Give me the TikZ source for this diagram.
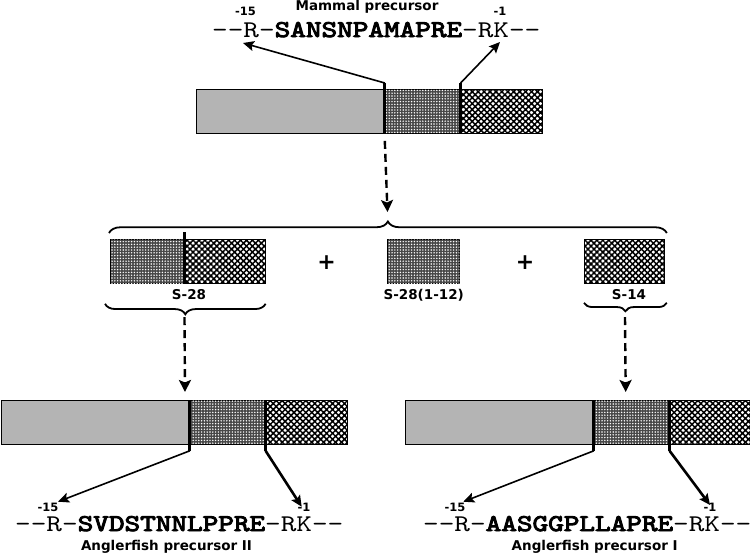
\documentclass[tikz,border=0pt]{standalone}
\usepackage{fontspec}
\setmainfont{DejaVu Sans}
\newfontfamily\seqfont{lmmono10-regular.otf}[FakeStretch=1.24]
\newfontfamily\seqbold{lmmono10-regular.otf}[FakeStretch=1.24, FakeBold=4]
\newcommand{\seqgap}{-\kern0pt-}
\usepackage{tikz}
\usetikzlibrary{positioning, arrows.meta, patterns.meta, decorations.pathreplacing}
\definecolor{signalgray}{HTML}{B4B4B4}

\begin{document}
\begin{tikzpicture}[
  x=1pt, y=-1pt,
  >=Stealth,
  signal/.style={
    rectangle, draw=black, line width=0.8pt, fill=signalgray,
    minimum width=188pt, minimum height=44pt, inner sep=0pt
  },
  stipple/.style={
    rectangle, draw=black, line width=0.8pt, fill=black!72,
    postaction={pattern={Dots[distance=2.8pt, radius=0.8pt]}, pattern color=white},
    minimum width=#1, minimum height=44pt, inner sep=0pt
  },
  checker/.style={
    rectangle, draw=black, line width=0.8pt, fill=white,
    postaction={pattern={Hatch[angle=45, distance=4.2pt, line width=1.5pt]}, pattern color=black},
    minimum width=#1, minimum height=44pt, inner sep=0pt
  },
  cutline/.style={line width=3pt},
  pointer/.style={-{Stealth[length=11pt, width=10pt, inset=2pt]}, line width=1.6pt},
  heavypointer/.style={-{Stealth[length=11pt, width=10pt, inset=2pt]}, line width=2.6pt},
  flow/.style={-{Stealth[length=12pt, width=12pt, inset=2.5pt]}, dash pattern=on 8pt off 5pt, line width=2.4pt},
  curly/.style={decorate, decoration={brace, amplitude=#1}, line width=1.8pt},
  seq/.style={font=\fontsize{24}{26}\selectfont\seqfont, inner sep=0pt},
  lab/.style={font=\bfseries\fontsize{13.5}{15}\selectfont, inner sep=0pt},
  resnum/.style={font=\bfseries\fontsize{11.5}{13}\selectfont, inner sep=0pt},
  plussign/.style={font=\bfseries\fontsize{22}{24}\selectfont, inner sep=0pt},
]
\useasboundingbox (0,0) rectangle (750,558);

% Mammal precursor
\node[lab, anchor=base] (mname) at (367,10) {Mammal precursor};
\node[seq, anchor=base west] (mseq) at (212,37) {\seqgap R-{\seqbold SANSNPAMAPRE}-RK\seqgap};
\node[resnum, anchor=base] (mn15) at (245.5,15.5) {-15};
\node[resnum, anchor=base] (mn1) at (500,15.5) {-1};

\node[signal, anchor=north west] (msig) at (196,89) {};
\node[stipple=75pt, anchor=west] (mnt) at (msig.east) {};
\node[checker=81pt, anchor=west] (ms14) at (mnt.east) {};

\coordinate[above=6pt of mnt.north west] (mcutA);
\coordinate[above=6pt of ms14.north west] (mcutB);
\draw[cutline] (mnt.south west) -- (mcutA);
\draw[cutline] (ms14.south west) -- (mcutB);
\coordinate (mtipA) at (243,43);
\coordinate (mtipB) at (500,42);
\draw[pointer] (mcutA) -- (mtipA);
\draw[pointer] (mcutB) -- (mtipB);

% Processing products
\node[stipple=74pt, anchor=north west] (nt28) at (110,239) {};
\node[checker=80pt, anchor=west] (ct28) at (nt28.east) {};
\draw[cutline] (ct28.south west) -- ([yshift=7pt]ct28.north west);
\node[stipple=72pt, anchor=north west] (nt12) at (387,239) {};
\node[checker=80pt, anchor=north west] (s14) at (584,239) {};

\node[lab, anchor=base] (l28) at (189,299) {S-28};
\node[lab, anchor=base] (l12) at (423.7,299.5) {S-28(1-12)};
\node[lab, anchor=base] (l14) at (629,299) {S-14};
\node[plussign] (plusA) at (326.7,262.7) {+};
\node[plussign] (plusB) at (525,262.7) {+};

\draw[curly=11.5pt] ([shift={(-1pt,6pt)}]nt28.north west) -- ([shift={(2pt,6pt)}]s14.north east);
\draw[curly=10.5pt] ([yshift=-20pt]ct28.south east) -- ([shift={(-5pt,-20pt)}]nt28.south west);
\draw[curly=8.5pt] ([shift={(2pt,-19pt)}]s14.south east) -- ([yshift=-19pt]s14.south west);

\coordinate (splittip) at (387.5,212);
\draw[flow] ([yshift=-7pt]mnt.south west) -- (splittip);

% Anglerfish precursor II
\node[signal, anchor=north west] (a2sig) at (1,400) {};
\node[stipple=75pt, anchor=west] (a2nt) at (a2sig.east) {};
\node[checker=81pt, anchor=west] (a2s14) at (a2nt.east) {};

\coordinate (a2from) at (184.5,317);
\coordinate (a2in) at (185,392);
\draw[flow] (a2from) -- (a2in);

\coordinate[below=6pt of a2nt.south west] (a2cutA);
\coordinate[below=6pt of a2s14.south west] (a2cutB);
\draw[cutline] (a2nt.north west) -- (a2cutA);
\draw[cutline] (a2s14.north west) -- (a2cutB);
\coordinate (a2tipA) at (58,501.7);
\coordinate (a2tipB) at (301.7,506.7);
\draw[pointer] (a2cutA) -- (a2tipA);
\draw[heavypointer] (a2cutB) -- (a2tipB);

\node[resnum, anchor=base] (a2n15) at (48,511) {-15};
\node[resnum, anchor=base] (a2n1) at (304,511) {-1};
\node[seq, anchor=base west] (a2seq) at (15,531) {\seqgap R-{\seqbold SVDSTNNLPPRE}-RK\seqgap};
\node[lab, anchor=base] (a2name) at (166.5,550) {Anglerfish precursor II};

% Anglerfish precursor I
\node[signal, anchor=north west] (a1sig) at (405,400) {};
\node[stipple=75pt, anchor=west] (a1nt) at (a1sig.east) {};
\node[checker=81pt, anchor=west] (a1s14) at (a1nt.east) {};

\coordinate (a1from) at (625,317);
\coordinate (a1in) at (625.7,392);
\draw[flow] (a1from) -- (a1in);

\coordinate[below=6pt of a1nt.south west] (a1cutA);
\coordinate[below=6pt of a1s14.south west] (a1cutB);
\draw[cutline] (a1nt.north west) -- (a1cutA);
\draw[cutline] (a1s14.north west) -- (a1cutB);
\coordinate (a1tipA) at (463.3,501.7);
\coordinate (a1tipB) at (710,505);
\draw[pointer] (a1cutA) -- (a1tipA);
\draw[heavypointer] (a1cutB) -- (a1tipB);

\node[resnum, anchor=base] (a1n15) at (455,511) {-15};
\node[resnum, anchor=base] (a1n1) at (710,511) {-1};
\node[seq, anchor=base west] (a1seq) at (423,531) {\seqgap R-{\seqbold AASGGPLLAPRE}-RK\seqgap};
\node[lab, anchor=base] (a1name) at (594.7,550) {Anglerfish precursor I};

\end{tikzpicture}
\end{document}
